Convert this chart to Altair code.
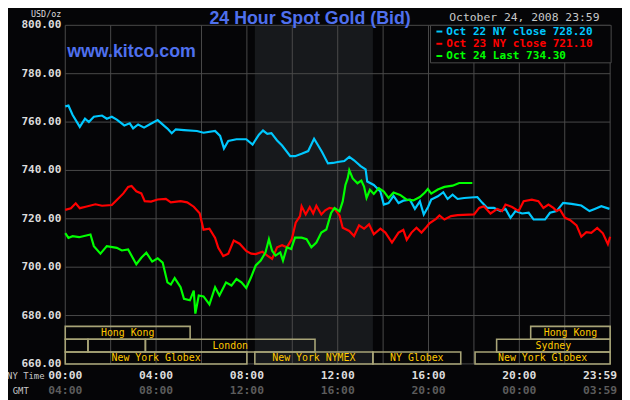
import altair as alt
import pandas as pd

# ---------------- data ----------------
series_names = ["Oct 22", "Oct 23", "Oct 24"]
series_colors = ["#00c8ff", "#ff0000", "#00ff00"]
legend_labels = ["Oct 22 NY close 728.20", "Oct 23 NY close 721.10", "Oct 24 Last 734.30"]

hours_22 = [0, 0.14, 0.32, 0.64, 0.87, 1.04, 1.26, 1.62, 1.83, 2.05, 2.27, 2.6, 2.84, 2.99, 3.21,
            3.47, 3.71, 4.07, 4.36, 4.5, 4.69, 4.87, 5.23, 5.8, 6.09, 6.6, 6.82, 6.99, 7.18, 7.54,
            7.97, 8.25, 8.53, 8.71, 8.9, 9.08, 9.33, 9.55, 9.91, 10.12, 10.41, 10.7, 10.96, 11.14,
            11.31, 11.57, 11.79, 12.0, 12.29, 12.51, 12.72, 13.01, 13.23, 13.3, 13.59, 13.88, 14.03,
            14.24, 14.46, 14.68, 14.89, 15.18, 15.4, 15.62, 15.79, 15.98, 16.12, 16.41, 16.65, 16.84,
            17.06, 17.28, 17.57, 18.15, 18.37, 18.59, 18.88, 19.17, 19.39, 19.61, 19.83, 20.12,
            20.41, 20.63, 21.13, 21.35, 21.64, 21.93, 22.3, 22.73, 23.09, 23.32, 23.61, 23.97]
price_22 = [766.5, 766.8, 763, 758, 761.4, 760, 762.2, 762.7, 761.4, 762.2, 761, 758.6, 759.5, 757.4,
            759, 757.7, 759, 760.8, 758.4, 757.3, 755.4, 757, 756.7, 756.3, 755.6, 756.3, 754.3,
            749.1, 752.2, 752.9, 752.9, 750.7, 754.8, 756.5, 755.1, 755.4, 752.4, 750.3, 745.9,
            745.9, 746.9, 748, 753.1, 750.3, 747.6, 742.9, 743.1, 743.5, 743.9, 745.6, 744.2, 741.8,
            740.4, 735.4, 734, 731.3, 725.9, 726.5, 729.5, 726.5, 727.5, 727.9, 724.1, 727.2, 721.8,
            724.9, 728, 729.3, 731, 728.2, 730, 728.2, 728.6, 729, 726.6, 724.5, 724.5, 723.2, 724.1,
            720.4, 723.2, 722.2, 722.5, 719.7, 719.7, 722.5, 723.2, 726.6, 726.2, 725.5, 723.2,
            724.1, 725.2, 724.1]

hours_23 = [0, 0.25, 0.46, 0.64, 0.9, 1.33, 1.62, 2.05, 2.27, 2.56, 2.77, 2.92, 3.13, 3.35, 3.5, 3.78,
            4.07, 4.43, 4.65, 5.08, 5.37, 5.66, 5.92, 6.09, 6.35, 6.6, 6.74, 6.96, 7.18, 7.42, 7.68,
            7.97, 8.19, 8.39, 8.68, 8.9, 9.11, 9.33, 9.55, 9.76, 9.98, 10.15, 10.34, 10.41, 10.59,
            10.77, 10.92, 11.06, 11.28, 11.45, 11.64, 11.86, 12.08, 12.22, 12.51, 12.72, 12.94,
            13.16, 13.38, 13.59, 13.88, 14.1, 14.39, 14.68, 14.89, 15.04, 15.25, 15.47, 15.69, 15.9,
            16.04, 16.33, 16.48, 16.7, 16.99, 17.28, 18.01, 18.23, 18.44, 18.73, 19.03, 19.24, 19.39,
            19.68, 19.97, 20.19, 20.55, 20.84, 21.06, 21.28, 21.5, 21.64, 21.79, 22.01, 22.23, 22.52,
            22.73, 22.95, 23.17, 23.43, 23.68, 23.9, 24]
price_23 = [723.7, 724.4, 726.4, 724.4, 725, 726, 725.4, 725.7, 727.8, 730.5, 733.2, 733.6, 731.4,
            730.5, 727.3, 727.1, 728, 728.2, 726.8, 727.3, 726.8, 725, 722.3, 715.5, 715.9, 712.1,
            708, 704.6, 705.6, 711, 709.7, 706.7, 705.6, 705.4, 706.4, 704.8, 703.4, 708.2, 709.1,
            708.2, 711.6, 718.4, 721.1, 725.2, 721.8, 724.9, 722.2, 725.4, 721.8, 723.5, 724.5,
            724.1, 721.4, 716.3, 715, 712.9, 717.3, 715.9, 717.7, 713.6, 715.9, 714.3, 710.2, 714.3,
            715.4, 711.3, 714.3, 716.3, 714.3, 716.5, 718.1, 720, 721.4, 719.7, 721.1, 721.5, 721.8,
            724.5, 725.2, 722.2, 724.1, 723.2, 725.9, 724.9, 723.2, 727.3, 727.9, 727.3, 724.5,
            725.9, 724.5, 723.2, 723.8, 720.4, 719.5, 717.3, 712.6, 714.5, 714.2, 716.2, 714, 709.5,
            712.6]

hours_24 = [0, 0.14, 0.32, 0.61, 1.11, 1.26, 1.55, 1.83, 2.27, 2.49, 2.77, 3.13, 3.35, 3.57, 3.83,
            4.07, 4.29, 4.5, 4.65, 4.82, 5.08, 5.23, 5.49, 5.66, 5.73, 5.88, 6.09, 6.35, 6.6, 6.79,
            7.08, 7.32, 7.54, 7.76, 7.97, 8.17, 8.39, 8.61, 8.82, 8.97, 9.11, 9.26, 9.47, 9.59, 9.76,
            9.95, 10.12, 10.41, 10.63, 10.84, 11.06, 11.28, 11.5, 11.71, 11.86, 12.08, 12.22, 12.34,
            12.44, 12.51, 12.66, 12.87, 13.04, 13.16, 13.27, 13.42, 13.59, 13.81, 14.03, 14.24,
            14.46, 14.75, 15.04, 15.33, 15.62, 15.84, 15.97, 16.12, 16.41, 16.7, 17.06, 17.35, 17.93]
price_24 = [714.1, 712.1, 712.8, 712.4, 713.5, 708.7, 705.6, 708.7, 708, 706.9, 707.3, 701.2, 703.9,
            706, 702.3, 703.7, 701.9, 693.7, 692.8, 695.5, 691.7, 686.9, 686.3, 690.3, 680.8, 688.3,
            687.9, 684.6, 691.7, 688.3, 693.7, 692.4, 695.1, 693.7, 691.4, 695.5, 700.7, 702.7,
            706.1, 711.6, 706.8, 704.8, 706.1, 702.7, 708.2, 707.5, 712.2, 712.2, 711.6, 708.2,
            710.2, 714.3, 715.6, 722.4, 724.5, 723.1, 727.2, 734, 736.7, 740.1, 736.7, 734.7, 735.8,
            733.3, 728.6, 732, 730.3, 732.7, 731.3, 728.6, 730.9, 729.9, 727.9, 727.6, 729, 730.9,
            732.3, 730.4, 732.1, 733.2, 733.7, 734.8, 734.8]

y_ticks = [660, 680, 700, 720, 740, 760, 780, 800]
grid_hours = [0, 2, 4, 6, 8, 10, 12, 14, 16, 18, 20, 22, 24]
label_hours = [0, 4, 8, 12, 16, 20, 24]
ny_labels = ["00:00", "04:00", "08:00", "12:00", "16:00", "20:00", "23:59"]
gmt_labels = ["04:00", "08:00", "12:00", "16:00", "20:00", "00:00", "03:59"]

nymex_start, nymex_end = 8.35, 13.55

market_start = [0, 20.5, 0, 1.0, 3.53, 19.0, 0, 8.35, 13.55, 18.05]
market_end = [5.5, 24, 1.0, 3.53, 11.0, 24, 8.0, 13.55, 17.42, 24]
market_row = [0, 0, 1, 1, 1, 1, 2, 2, 2, 2]
market_label = ["Hong Kong", "Hong Kong", "", "", "London", "Sydney",
                "New York Globex", "New York NYMEX", "NY Globex", "New York Globex"]

# ---------------- style ----------------
W, H = 552, 343
BG = "#050507"
GRID = "#4a4a4a"
MONO = "DejaVu Sans Mono"
SANS = "Liberation Sans"
BLUE_TXT = "#4f70ee"
BOX = "#a8a477"
BOX_TXT = "#ffc800"
row_top = [305, 318, 331]
row_bot = [318, 331, 343]

xs = alt.Scale(domain=[0, 24], nice=False, zero=False)
ys = alt.Scale(domain=[660, 800], nice=False, zero=False)

lines_df = pd.concat([
    pd.DataFrame({"hour": hours_22, "price": price_22, "series": series_names[0]}),
    pd.DataFrame({"hour": hours_23, "price": price_23, "series": series_names[1]}),
    pd.DataFrame({"hour": hours_24, "price": price_24, "series": series_names[2]}),
])
market_df = pd.DataFrame({"start": market_start, "end": market_end,
                          "row": market_row, "label": market_label})
market_df["mid"] = (market_df["start"] + market_df["end"]) / 2
xlab_df = pd.DataFrame({"h": label_hours, "ny": ny_labels, "gmt": gmt_labels})

layers = []

# shaded NYMEX session
layers.append(alt.Chart(pd.DataFrame({"s": [nymex_start], "e": [nymex_end]})).mark_rect(
    color="#17191c").encode(
    x=alt.X("s:Q", scale=xs, axis=None), x2="e:Q", y=alt.value(0), y2=alt.value(H)))

# grid
layers.append(alt.Chart(pd.DataFrame({"v": y_ticks})).mark_rule(color=GRID, strokeWidth=1).encode(
    y=alt.Y("v:Q", scale=ys, axis=None)))
layers.append(alt.Chart(pd.DataFrame({"h": grid_hours})).mark_rule(color=GRID, strokeWidth=1).encode(
    x=alt.X("h:Q", scale=xs, axis=None)))

# market session boxes
for r in range(3):
    sub = market_df[market_df["row"] == r]
    layers.append(alt.Chart(sub).mark_rect(fillOpacity=0, stroke=BOX, strokeWidth=1.6).encode(
        x=alt.X("start:Q", scale=xs, axis=None), x2="end:Q",
        y=alt.value(row_top[r]), y2=alt.value(row_bot[r])))
    layers.append(alt.Chart(sub).mark_text(font=MONO, fontSize=10, color=BOX_TXT,
                                           baseline="middle", align="center").encode(
        x=alt.X("mid:Q", scale=xs, axis=None), y=alt.value((row_top[r] + row_bot[r]) / 2 + 0.5),
        text="label:N"))

# price lines
layers.append(alt.Chart(lines_df).mark_line(strokeWidth=2.2).encode(
    x=alt.X("hour:Q", scale=xs, axis=None),
    y=alt.Y("price:Q", scale=ys, axis=None),
    color=alt.Color("series:N", scale=alt.Scale(domain=series_names, range=series_colors), legend=None),
    detail="series:N"))

# y labels
layers.append(alt.Chart(pd.DataFrame({"v": y_ticks})).mark_text(
    font=MONO, fontSize=11.2, fontWeight="bold", color="#dcdcdc", align="right", baseline="middle").encode(
    y=alt.Y("v:Q", scale=ys, axis=None), x=alt.value(-4), text=alt.Text("v:Q", format=".2f")))

# x labels
mono_lbl = dict(font=MONO, fontSize=11.5, fontWeight="bold", baseline="middle")
layers.append(alt.Chart(xlab_df.iloc[:-1]).mark_text(color="#dcdcdc", align="center", **mono_lbl).encode(
    x=alt.X("h:Q", scale=xs, axis=None), y=alt.value(355), text="ny:N"))
layers.append(alt.Chart(xlab_df.iloc[:-1]).mark_text(color="#5c5c5c", align="center", **mono_lbl).encode(
    x=alt.X("h:Q", scale=xs, axis=None), y=alt.value(370), text="gmt:N"))
layers.append(alt.Chart(xlab_df.iloc[-1:]).mark_text(color="#dcdcdc", align="right", dx=7, **mono_lbl).encode(
    x=alt.X("h:Q", scale=xs, axis=None), y=alt.value(355), text="ny:N"))
layers.append(alt.Chart(xlab_df.iloc[-1:]).mark_text(color="#5c5c5c", align="right", dx=7, **mono_lbl).encode(
    x=alt.X("h:Q", scale=xs, axis=None), y=alt.value(370), text="gmt:N"))

def label(txt, x, y, **kw):
    return alt.Chart(pd.DataFrame({"t": [txt]})).mark_text(**kw).encode(
        x=alt.value(x), y=alt.value(y), text="t:N")

layers.append(label("NY Time", -21, 355, font=MONO, fontSize=9, color="#c8c8c8", align="right", baseline="middle"))
layers.append(label("GMT", -37, 370, font=MONO, fontSize=9, color="#c8c8c8", align="right", baseline="middle"))
layers.append(label("USD/oz", -4, -15, font=MONO, fontSize=8.5, color="#dcdcdc", align="right", baseline="top"))
layers.append(label("24 Hour Spot Gold (Bid)", 248, -1.8, font=SANS, fontSize=18, fontWeight="bold",
                    color=BLUE_TXT, align="center", baseline="alphabetic"))
layers.append(label("www.kitco.com", 2, 32, font=SANS, fontSize=18, fontWeight="bold", color=BLUE_TXT,
                    align="left", baseline="alphabetic"))
layers.append(label("October 24, 2008 23:59", 389, -7.5, font=MONO, fontSize=11.5, color="#c8c8c8",
                    align="left", baseline="middle"))

# legend box
layers.append(alt.Chart(pd.DataFrame({"a": [0]})).mark_rect(fill=BG, stroke=GRID, strokeWidth=1).encode(
    x=alt.value(370), x2=alt.value(553), y=alt.value(0), y2=alt.value(38)))
for i, (lbl, col) in enumerate(zip(legend_labels, series_colors)):
    yy = 6.3 + i * 12.4
    layers.append(alt.Chart(pd.DataFrame({"a": [0]})).mark_rule(color=col, strokeWidth=2).encode(
        x=alt.value(376), x2=alt.value(382), y=alt.value(yy)))
    layers.append(label(lbl, 386, yy, font=MONO, fontSize=11.2, fontWeight="bold", color=col,
                        align="left", baseline="middle"))

chart = alt.layer(*layers).properties(
    width=W, height=H,
    padding={"left": 58, "top": 15, "right": 12, "bottom": 34},
    autosize=alt.AutoSizeParams(type="none"),
    background=BG,
).configure_view(stroke=None)

chart.save("out.html", embed_options={"renderer": "svg", "actions": False})
